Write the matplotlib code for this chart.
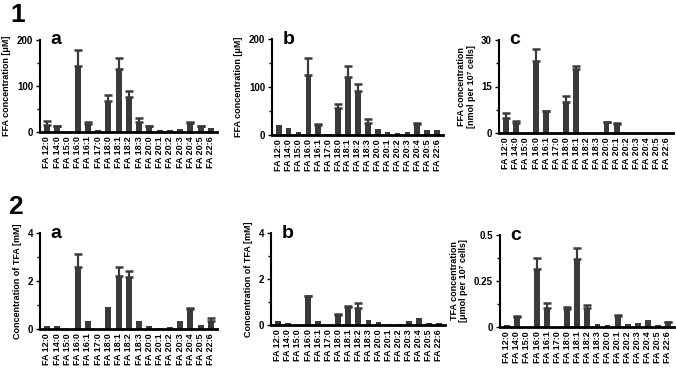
import matplotlib
matplotlib.use("Agg")
import matplotlib.pyplot as plt
import numpy as np
from matplotlib.ticker import MultipleLocator, FuncFormatter

plt.rcParams['font.family'] = ['Liberation Sans', 'DejaVu Sans']
plt.rcParams['font.weight'] = 'bold'

categories = ["FA 12:0", "FA 14:0", "FA 15:0", "FA 16:0", "FA 16:1", "FA 17:0",
              "FA 18:0", "FA 18:1", "FA 18:2", "FA 18:3", "FA 20:0", "FA 20:1",
              "FA 20:2", "FA 20:3", "FA 20:4", "FA 20:5", "FA 22:6"]

# Panel 1a: FFA concentration [uM]
ffa_a = [15, 12, 0, 144, 18, 5, 68, 137, 77, 22, 12, 5, 5, 6, 20, 12, 9]
ffa_a_err = [10, 1, 0, 34, 4, 0, 12, 23, 13, 9, 1, 0, 0, 0, 2, 1, 0]
# Panel 1b
ffa_b = [20, 14, 6, 124, 21, 3, 56, 120, 92, 26, 13, 6, 5, 7, 23, 11, 11]
ffa_b_err = [0, 0, 0, 36, 1, 0, 9, 24, 15, 7, 0, 0, 0, 0, 1, 0, 0]
# Panel 1c: nmol per 10^7 cells
ffa_c = [5.0, 3.2, 0, 23.3, 7.0, 0, 10.0, 20.8, 0, 0, 3.6, 3.0, 0, 0, 0, 0, 0]
ffa_c_err = [1.5, 0.7, 0, 3.7, 0.2, 0, 1.8, 0.9, 0, 0, 0.1, 0.1, 0, 0, 0, 0, 0]
# Panel 2a: TFA [mM]
tfa_a = [0.13, 0.13, 0, 2.6, 0.35, 0.01, 0.9, 2.19, 2.16, 0.35, 0.14, 0.05, 0.08, 0.32, 0.84, 0.18, 0.35]
tfa_a_err = [0, 0, 0, 0.52, 0, 0, 0, 0.41, 0.27, 0, 0, 0, 0, 0, 0.04, 0, 0.1]
# Panel 2b
tfa_b = [0.16, 0.07, 0, 1.24, 0.17, 0, 0.44, 0.79, 0.76, 0.22, 0.13, 0.04, 0.03, 0.16, 0.29, 0.09, 0.09]
tfa_b_err = [0, 0, 0, 0.02, 0, 0, 0.03, 0.05, 0.19, 0, 0, 0, 0, 0, 0, 0, 0]
# Panel 2c: umol per 10^7 cells
tfa_c = [0.013, 0.056, 0, 0.316, 0.105, 0, 0.096, 0.367, 0.102, 0.015, 0.009, 0.06, 0.016, 0.022, 0.036, 0.009, 0.025]
tfa_c_err = [0, 0.002, 0, 0.06, 0.024, 0, 0.013, 0.063, 0.02, 0, 0, 0.005, 0, 0, 0, 0, 0.002]

panels = [
    (ffa_a, ffa_a_err, 200, 100, 50, "FFA concentration [\u03bcM]", "a",
     [40/676, 1-132/368, 177/676, 92/368]),
    (ffa_b, ffa_b_err, 200, 100, 50, "FFA concentration [\u03bcM]", "b",
     [272/676, 1-135/368, 171/676, 96/368]),
    (ffa_c, ffa_c_err, 30, 15, 7.5, "FFA concentration\n[nmol per 10\u2077 cells]", "c",
     [499/676, 1-133/368, 174/676, 93/368]),
    (tfa_a, tfa_a_err, 4, 2, 1, "Concentration of TFA [mM]", "a",
     [40/676, 1-329/368, 177/676, 96/368]),
    (tfa_b, tfa_b_err, 4, 2, 1, "Concentration of TFA [mM]", "b",
     [271/676, 1-325/368, 174/676, 92/368]),
    (tfa_c, tfa_c_err, 0.5, 0.25, 0.125, "TFA concentration\n[\u03bcmol per 10\u2077 cells]", "c",
     [500/676, 1-327/368, 174/676, 92/368]),
]

fig = plt.figure(figsize=(6.76, 3.68), dpi=100)
x = np.arange(len(categories))
barcolor = "#3a3a3a"

for vals, errs, ymax, major, minor, ylabel, letter, rect in panels:
    ax = fig.add_axes(rect)
    vals = np.array(vals, dtype=float)
    errs = np.array(errs, dtype=float)
    ax.bar(x, vals, width=0.58, color=barcolor, zorder=2)
    mask = errs > 0
    ax.errorbar(x[mask], vals[mask], yerr=[np.zeros(mask.sum()), errs[mask]],
                fmt="none", ecolor=barcolor, elinewidth=1.6, capsize=3, capthick=1.8, zorder=3)
    ax.set_xlim(-0.68, len(categories) - 0.4)
    ax.set_ylim(0, ymax)
    ax.yaxis.set_major_locator(MultipleLocator(major))
    ax.yaxis.set_minor_locator(MultipleLocator(minor))
    ax.yaxis.set_major_formatter(FuncFormatter(lambda v, p: f"{v:g}"))
    ax.spines['top'].set_visible(False)
    ax.spines['right'].set_visible(False)
    ax.spines['left'].set_linewidth(1.5)
    ax.spines['bottom'].set_linewidth(2)
    ax.tick_params(axis='y', which='major', length=3, width=1, labelsize=7, pad=2)
    ax.tick_params(axis='y', which='minor', length=2, width=1)
    ax.tick_params(axis='x', length=0, labelsize=6.5, pad=3)
    ax.set_xticks(x)
    ax.set_xticklabels(categories, rotation=90, fontweight='bold')
    for lab in ax.get_yticklabels():
        lab.set_fontweight('bold')
    ax.set_ylabel(ylabel, fontsize=6.5, fontweight='bold', labelpad=4, linespacing=1.1)
    ax.text(0.06, 1.0, letter, transform=ax.transAxes, fontsize=14, fontweight='bold',
            va='center', ha='left')

fig.text(10/676, 1-3/368, "1", fontsize=19, fontweight='bold', va='top', ha='left')
fig.text(8/676, 1-195/368, "2", fontsize=19, fontweight='bold', va='top', ha='left')

fig.savefig("out.png", dpi=100)
